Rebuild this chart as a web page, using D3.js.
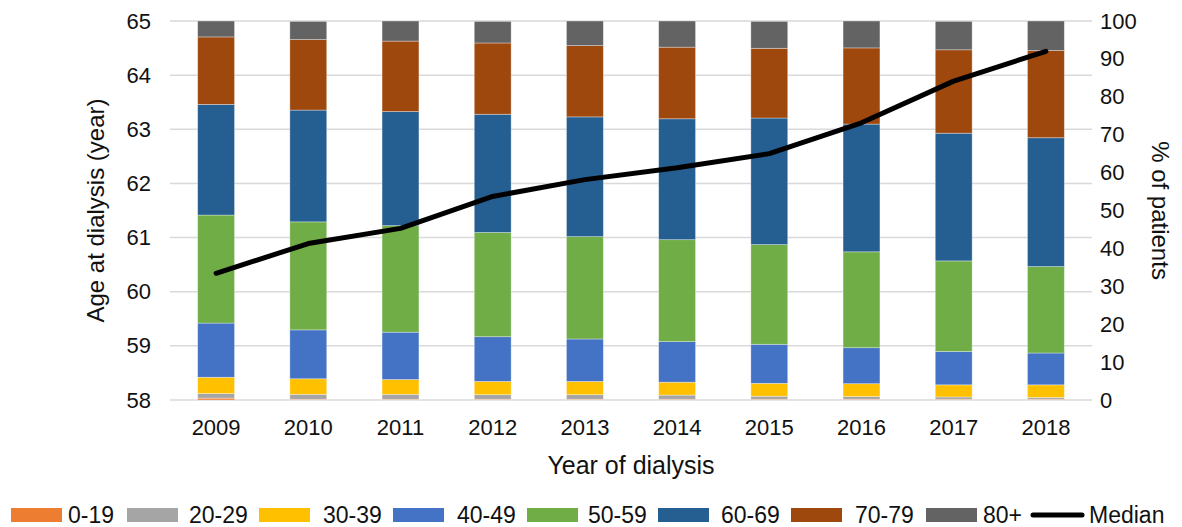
<!DOCTYPE html>
<html>
<head>
<meta charset="utf-8">
<script src="https://cdn.jsdelivr.net/npm/d3@7"></script>
<style>
  body { margin: 0; background: #fff; }
  svg { display: block; font-family: "Liberation Sans", Arial, sans-serif; }
</style>
</head>
<body>
<div id="chart"></div>
<script>
// data
const years = ["2009", "2010", "2011", "2012", "2013", "2014", "2015", "2016", "2017", "2018"];
const ageGroups = ["0-19", "20-29", "30-39", "40-49", "50-59", "60-69", "70-79", "80+"];

// % of patients per age group (right axis)
const g0_19  = [0.5, 0.2, 0.2, 0.2, 0.2, 0.2, 0.2, 0.2, 0.2, 0.2];
const g20_29 = [1.2, 1.3, 1.3, 1.2, 1.2, 1.1, 0.8, 0.7, 0.6, 0.5];
const g30_39 = [4.3, 4.1, 3.9, 3.5, 3.5, 3.4, 3.4, 3.4, 3.2, 3.3];
const g40_49 = [14.3, 12.9, 12.5, 11.8, 11.2, 10.7, 10.3, 9.5, 8.8, 8.4];
const g50_59 = [28.5, 28.5, 28.1, 27.5, 27.0, 26.9, 26.3, 25.3, 23.9, 22.8];
const g60_69 = [29.2, 29.5, 30.1, 31.2, 31.6, 31.9, 33.4, 33.7, 33.7, 34.0];
const g70_79 = [17.8, 18.6, 18.6, 18.8, 18.8, 18.9, 18.4, 20.1, 22.0, 23.0];
const g80p   = [4.2, 4.8, 5.3, 5.7, 6.5, 6.9, 7.1, 7.1, 7.5, 7.8];

// median age at dialysis (left axis)
const median = [60.34, 60.89, 61.17, 61.76, 62.07, 62.29, 62.55, 63.12, 63.89, 64.44];

const leftTicks = [58, 59, 60, 61, 62, 63, 64, 65];
const rightTicks = [0, 10, 20, 30, 40, 50, 60, 70, 80, 90, 100];

const colors = ["#ED7D31", "#A5A5A5", "#FFC000", "#4472C4", "#70AD47", "#255E91", "#9E480E", "#636363"];

const groupValues = [g0_19, g20_29, g30_39, g40_49, g50_59, g60_69, g70_79, g80p];
const table = years.map((y, i) => {
  const row = { year: y };
  ageGroups.forEach((g, k) => { row[g] = groupValues[k][i]; });
  return row;
});

const W = 1182, H = 527;
const margin = { top: 21, right: 90, bottom: 127, left: 170 };
const width = W - margin.left - margin.right;
const height = H - margin.top - margin.bottom;

const svg = d3.select("#chart")
  .append("svg")
  .attr("width", W)
  .attr("height", H);

const g = svg.append("g")
  .attr("transform", `translate(${margin.left},${margin.top})`);

const x = d3.scaleBand()
  .domain(years)
  .range([0, width])
  .paddingInner(0.6)
  .paddingOuter(0.3);

const yLeft = d3.scaleLinear().domain([58, 65]).range([height, 0]);
const yRight = d3.scaleLinear().domain([0, 100]).range([height, 0]);

// gridlines
g.selectAll(".grid")
  .data(leftTicks)
  .enter()
  .append("line")
  .attr("x1", 0)
  .attr("x2", width)
  .attr("y1", d => yLeft(d))
  .attr("y2", d => yLeft(d))
  .attr("stroke", "#d9d9d9")
  .attr("stroke-width", 1.5);

// stacked bars
const stacked = d3.stack().keys(ageGroups)(table);

g.selectAll(".layer")
  .data(stacked)
  .enter()
  .append("g")
  .attr("fill", (d, i) => colors[i])
  .selectAll("rect")
  .data(d => d)
  .enter()
  .append("rect")
  .attr("x", d => x(d.data.year))
  .attr("width", x.bandwidth())
  .attr("y", d => yRight(d[1]))
  .attr("height", d => yRight(d[0]) - yRight(d[1]))
  .attr("stroke", "rgba(255,255,255,0.45)")
  .attr("stroke-width", 0.75);

// median line
const line = d3.line()
  .x((d, i) => x(years[i]) + x.bandwidth() / 2)
  .y(d => yLeft(d));

g.append("path")
  .datum(median)
  .attr("fill", "none")
  .attr("stroke", "#000")
  .attr("stroke-width", 5)
  .attr("stroke-linecap", "round")
  .attr("stroke-linejoin", "round")
  .attr("d", line);

// axes
const leftAxis = d3.axisLeft(yLeft).tickValues(leftTicks).tickFormat(d3.format("d")).tickSize(0).tickPadding(19);
const rightAxis = d3.axisRight(yRight).tickValues(rightTicks).tickSize(0).tickPadding(8);
const bottomAxis = d3.axisBottom(x).tickSize(0).tickPadding(19);

const styleAxis = sel => {
  sel.select(".domain").remove();
  sel.selectAll("text")
    .attr("font-size", 22)
    .attr("fill", "#111")
    .attr("font-family", "Liberation Sans, Arial, sans-serif");
};

g.append("g").call(leftAxis).call(styleAxis);
g.append("g").attr("transform", `translate(${width},0)`).call(rightAxis).call(styleAxis);
g.append("g").attr("transform", `translate(0,${height})`).call(bottomAxis).call(styleAxis);

// axis titles
svg.append("text")
  .attr("transform", `translate(104,${margin.top + height / 2}) rotate(-90)`)
  .attr("text-anchor", "middle")
  .attr("font-size", 24)
  .attr("fill", "#111")
  .text("Age at dialysis (year)");

svg.append("text")
  .attr("transform", `translate(1152,${margin.top + height / 2}) rotate(90)`)
  .attr("text-anchor", "middle")
  .attr("font-size", 24)
  .attr("fill", "#111")
  .text("% of patients");

svg.append("text")
  .attr("x", margin.left + width / 2)
  .attr("y", 474)
  .attr("text-anchor", "middle")
  .attr("font-size", 25)
  .attr("fill", "#111")
  .text("Year of dialysis");

// legend
const legendItems = ageGroups.map((d, i) => ({ name: d, color: colors[i], type: "rect" }))
  .concat([{ name: "Median", color: "#000", type: "line" }]);
const swatchX = [11, 127, 259, 393, 527, 658, 791, 926, 1030];
const labelX = [68, 189, 323, 457, 588, 721, 855, 983, 1089];
const legendY = 515;

const legend = svg.selectAll(".legend")
  .data(legendItems)
  .enter()
  .append("g");

legend.filter(d => d.type === "rect")
  .append("rect")
  .attr("x", (d, i) => swatchX[ageGroups.indexOf(d.name)])
  .attr("y", legendY - 7)
  .attr("width", 51)
  .attr("height", 14)
  .attr("fill", d => d.color);

legend.filter(d => d.type === "line")
  .append("line")
  .attr("x1", swatchX[8] + 3)
  .attr("x2", swatchX[8] + 52)
  .attr("y1", legendY)
  .attr("y2", legendY)
  .attr("stroke", "#000")
  .attr("stroke-width", 5)
  .attr("stroke-linecap", "round");

legend.append("text")
  .attr("x", (d, i) => labelX[i])
  .attr("y", legendY)
  .attr("dy", "0.35em")
  .attr("font-size", 23)
  .attr("fill", "#111")
  .text(d => d.name);
</script>
</body>
</html>
